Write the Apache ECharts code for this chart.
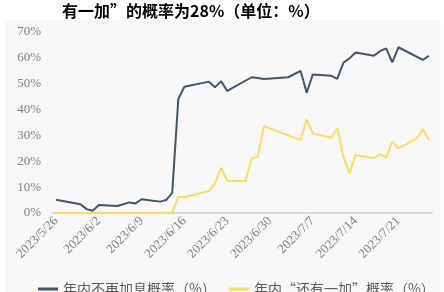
<!DOCTYPE html>
<html>
<head>
<meta charset="utf-8">
<script src="https://cdn.jsdelivr.net/npm/echarts@6/dist/echarts.min.js"></script>
<style>html,body{margin:0;padding:0;background:#fff;}#c{width:444px;height:292px;}</style>
</head>
<body>
<div id="c"></div>
<script>
// Calendar span of the x axis (one category per day)
var startDay = '2023-05-26';
var endDay = '2023-07-26';
// Trading dates with observations
var dates = ['2023/5/26','2023/5/30','2023/5/31','2023/6/1','2023/6/2','2023/6/5','2023/6/6','2023/6/7','2023/6/8','2023/6/9',
  '2023/6/12','2023/6/13','2023/6/14','2023/6/15','2023/6/16','2023/6/20','2023/6/21','2023/6/22','2023/6/23','2023/6/26',
  '2023/6/27','2023/6/28','2023/6/29','2023/7/3','2023/7/5','2023/7/6','2023/7/7','2023/7/10','2023/7/11','2023/7/12',
  '2023/7/13','2023/7/14','2023/7/17','2023/7/18','2023/7/19','2023/7/20','2023/7/21','2023/7/24','2023/7/25','2023/7/26'];
var noMoreHike = [5.1,3.4,1.5,0.9,3.1,2.7,3.4,4.1,3.7,5.3,
  4.4,5.0,7.8,44.1,48.8,50.8,48.6,51.0,47.2,null,
  52.5,52.2,51.8,52.5,55.0,46.5,53.6,53.1,51.9,58.1,
  59.8,62.1,60.8,62.6,63.7,58.3,64.1,null,59.2,60.8];
var oneMoreHike = [0,0,0,0,0,0,0,0,0,0,
  0,0.2,0,6.3,6.1,8.5,11.5,17.5,12.5,12.4,
  21.2,21.8,33.6,null,28.2,36.2,30.8,29.1,32.8,21.8,
  15.4,22.4,21.2,22.7,21.5,27.6,25.0,28.9,32.4,28.2];
var yTicks = [0,10,20,30,40,50,60,70];
var seriesNames = ['年内不再加息概率（%）','年内“还有一加”概率（%）'];
var titleText = '有一加”的概率为28%（单位：%）';

function fmt(d){return d.getUTCFullYear()+'/'+(d.getUTCMonth()+1)+'/'+d.getUTCDate();}
var cats = [];
for (var t = Date.parse(startDay+'T00:00:00Z'); t <= Date.parse(endDay+'T00:00:00Z'); t += 86400000) cats.push(fmt(new Date(t)));
function build(vals){
  var m = {}; dates.forEach(function(d,i){ if(vals[i]!=null) m[d]=vals[i]; });
  return cats.map(function(c){ return m.hasOwnProperty(c) ? m[c] : null; });
}

var chart = echarts.init(document.getElementById('c'));
chart.setOption({
  animation:false,
  backgroundColor:'#ffffff',
  graphic:[
    {type:'rect',z:-10,silent:true,shape:{x:5,y:20,width:436,height:272},style:{fill:'#f8f8f8'}},
    {type:'text',left:62,top:3,style:{text:titleText,font:'bold 16px "Noto Sans CJK SC", "Liberation Serif", serif',fill:'#000'}}
  ],
  grid:{left:53,right:12,top:32,bottom:79,containLabel:false},
  legend:{
    top:282,left:38,padding:0,itemGap:13,itemWidth:20,itemHeight:3,icon:'rect',
    textStyle:{fontSize:14,color:'#595959',fontFamily:'"Noto Sans CJK SC", serif'},
    data:seriesNames
  },
  xAxis:{
    type:'category',data:cats,boundaryGap:true,
    axisLine:{lineStyle:{color:'#d9d9d9',width:2}},
    axisTick:{interval:6,length:4,lineStyle:{color:'#d9d9d9'}},
    axisLabel:{interval:6,rotate:45,margin:6,fontSize:13,color:'#7f7f7f',fontFamily:'"Liberation Serif", serif'},
    splitLine:{show:false}
  },
  yAxis:{
    type:'value',min:yTicks[0],max:yTicks[yTicks.length-1],interval:10,
    axisLine:{show:false},axisTick:{show:false},splitLine:{show:false},
    axisLabel:{formatter:'{value}%',margin:12,fontSize:13,color:'#7f7f7f',fontFamily:'"Liberation Serif", serif'}
  },
  series:[
    {name:seriesNames[0],type:'line',data:build(noMoreHike),connectNulls:true,showSymbol:false,symbol:'none',
     lineStyle:{color:'#44546a',width:2},itemStyle:{color:'#44546a'}},
    {name:seriesNames[1],type:'line',data:build(oneMoreHike),connectNulls:true,showSymbol:false,symbol:'none',
     lineStyle:{color:'#ffd966',width:2},itemStyle:{color:'#ffd966'}}
  ]
});
</script>
</body>
</html>
